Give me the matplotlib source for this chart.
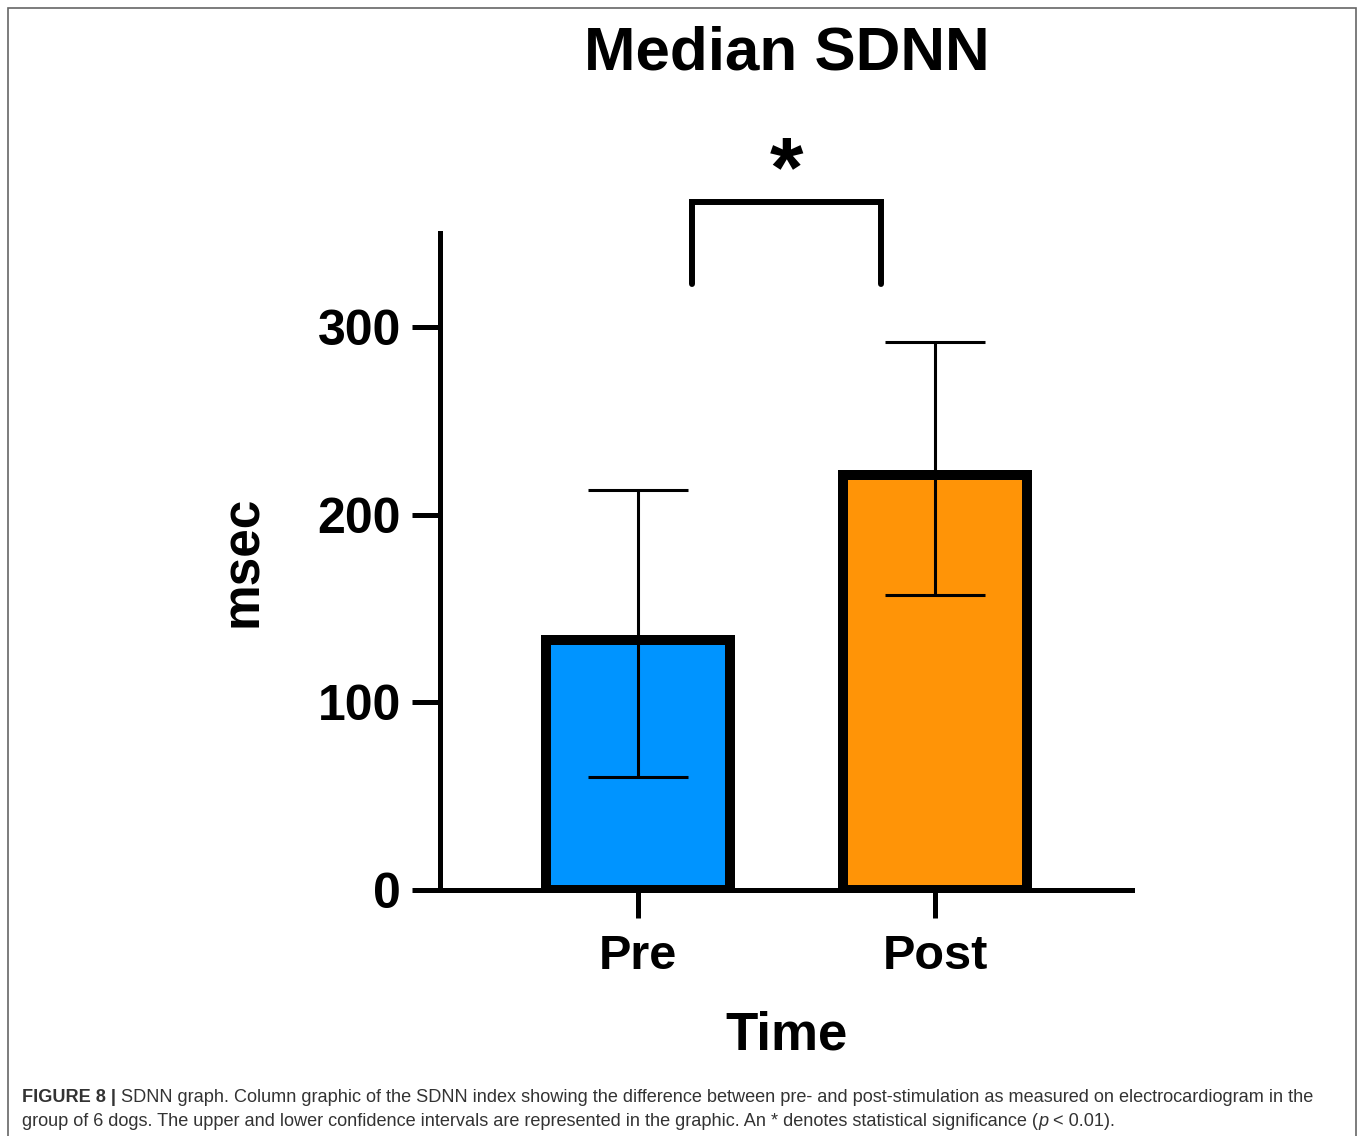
import numpy as np
import matplotlib
matplotlib.use("Agg")
import matplotlib.pyplot as plt
from matplotlib.patches import Rectangle

plt.rcParams['font.family'] = ['Liberation Sans', 'DejaVu Sans']

# data
groups = ['Pre', 'Post']
medians = [133, 221]
upper_ci = [213, 292]
lower_ci = [60, 157]
bar_colors = ['#0094FF', '#FF9407']
yticks = [0, 100, 200, 300]

W, H = 1360, 1136
fig = plt.figure(figsize=(W / 100, H / 100), dpi=100)

# outer frame of the figure panel
fig.patches.append(Rectangle((8 / W, -0.01), (1356 - 8) / W, 1 - 8 / H + 0.01,
                             transform=fig.transFigure, fill=False,
                             edgecolor='#666666', linewidth=1.2))

ax = fig.add_axes([440 / W, 1 - 890 / H, (1132 - 440) / W, (890 - 233) / H])
x = np.arange(len(groups))
med = np.array(medians)
yerr = [med - np.array(lower_ci), np.array(upper_ci) - med]

ax.bar(x, med, width=0.62, color=bar_colors, edgecolor='black', linewidth=7.2, zorder=2)
ax.errorbar(x, med, yerr=yerr, fmt='none', ecolor='black', elinewidth=2.2,
            capsize=36, capthick=2.2, zorder=3)

ax.set_xlim(-0.667, 1.663)
ax.set_ylim(0, 350)
ax.set_xticks(x)
ax.set_xticklabels(groups)
ax.set_yticks(yticks)
for s in ['top', 'right']:
    ax.spines[s].set_visible(False)
for s in ['left', 'bottom']:
    ax.spines[s].set_linewidth(3.6)
ax.tick_params(axis='both', length=20, width=3.6, direction='out')
ax.tick_params(axis='y', pad=8, labelsize=36)
ax.tick_params(axis='x', pad=12, labelsize=35)
for lab in ax.get_xticklabels() + ax.get_yticklabels():
    lab.set_fontweight('bold')

ax.set_ylabel('msec', fontsize=37, fontweight='bold', labelpad=36)
ax.set_xlabel('Time', fontsize=38, fontweight='bold', labelpad=22)

# significance bracket
ax.plot([0.182, 0.182, 0.818, 0.818], [323, 366.5, 366.5, 323], color='black',
        linewidth=4.3, clip_on=False, solid_capstyle='round', solid_joinstyle='miter')
ax.text(0.5, 360, '*', ha='center', va='bottom', fontsize=62, fontweight='bold',
        clip_on=False)

fig.text(787 / W, 1 - 54 / H, 'Median SDNN', ha='center', va='center',
         fontsize=44.6, fontweight='bold')

# caption
cap_color = '#333333'
cap_size = 13.1
fig.canvas.draw()
renderer = fig.canvas.get_renderer()


def chain(pieces, x0, y0):
    xx = x0
    for txt, kw in pieces:
        t = fig.text(xx / W, 1 - y0 / H, txt, ha='left', va='baseline',
                     fontsize=cap_size, color=cap_color, **kw)
        bb = t.get_window_extent(renderer=renderer)
        xx += bb.width


chain([('FIGURE 8 | ', {'fontweight': 'bold'}),
       ('SDNN graph. Column graphic of the SDNN index showing the difference between '
        'pre- and post-stimulation as measured on electrocardiogram in the', {})], 22, 1102)
chain([('group of 6 dogs. The upper and lower confidence intervals are represented in '
        'the graphic. An * denotes statistical significance (', {}),
       ('p', {'fontstyle': 'italic'}),
       (' < 0.01).', {})], 22, 1126)

fig.savefig('out.png', dpi=100)
